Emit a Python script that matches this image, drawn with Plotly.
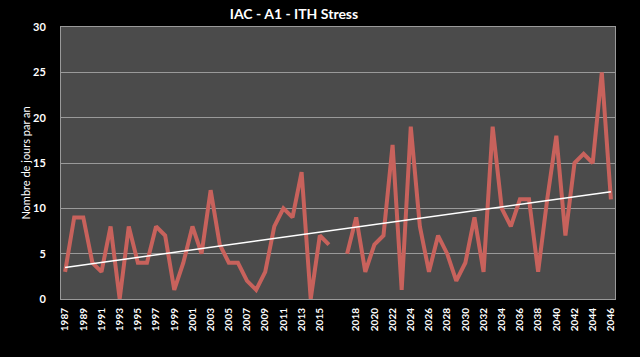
import numpy as np
import plotly.graph_objects as go

years = [str(y) for y in range(1987, 2017)] + [""] + [str(y) for y in range(2017, 2047)]
values = [3, 9, 9, 4, 3, 8, 0, 8, 4, 4, 8, 7, 1, 4, 8, 5, 12, 6, 4, 4, 2, 1, 3, 8, 10, 9, 14, 0, 7, 6,
          None,
          5, 9, 3, 6, 7, 17, 1, 19, 8, 3, 7, 5, 2, 4, 9, 3, 19, 10, 8, 11, 11, 3, 11, 18, 7, 15, 16, 15, 25, 11]
tick_labels = [str(y) for y in range(1987, 2016, 2)] + [""] + [str(y) for y in range(2018, 2047, 2)]
y_ticks = [0, 5, 10, 15, 20, 25, 30]

idx = np.arange(len(years))
valid = [i for i, v in enumerate(values) if v is not None]
coef = np.polyfit(idx[valid], np.array([values[i] for i in valid], dtype=float), 1)
trend = np.polyval(coef, idx[[0, -1]])

fig = go.Figure()
fig.add_trace(go.Scatter(x=idx, y=values, mode="lines", connectgaps=False,
                         line=dict(color="#c8625c", width=4), hoverinfo="skip"))
fig.add_trace(go.Scatter(x=idx[[0, -1]], y=trend, mode="lines",
                         line=dict(color="white", width=1.5), hoverinfo="skip"))

font = "Lato, 'Open Sans', sans-serif"
fig.update_layout(
    width=640, height=357,
    paper_bgcolor="black", plot_bgcolor="#4b4b4b",
    margin=dict(l=61, r=25, t=27, b=58),
    showlegend=False,
    title=dict(text="<b>IAC - A1 - ITH Stress</b>", x=294 / 640, xanchor="center",
               y=1 - 14 / 357, yanchor="middle",
               font=dict(family=font, size=14, color="white")),
    font=dict(family=font, color="white"),
)
fig.update_xaxes(range=[-0.45, len(years) - 0.55], tickvals=idx[0::2],
                 ticktext=["<b>%s</b>" % t if t else "" for t in tick_labels],
                 tickangle=-90, tickfont=dict(size=10, color="white", family=font),
                 showgrid=False, zeroline=False, showline=True, linecolor="#9a9a9a", linewidth=1,
                 mirror=True, ticks="", ticklabelstandoff=4, automargin=False)
fig.update_yaxes(range=[0, 30], tickvals=y_ticks, ticktext=["<b>%d</b>" % v for v in y_ticks],
                 showgrid=True, gridcolor="#9a9a9a",
                 gridwidth=1, zeroline=False, showline=True, linecolor="#9a9a9a",
                 mirror=True, linewidth=1, tickfont=dict(size=11, color="white", family=font),
                 ticks="", ticklabelstandoff=12, automargin=False,
                 title=dict(text="Nombre de jours par an", standoff=0,
                            font=dict(size=11, color="white", family=font)))
fig.write_html("out.html", config={"displayModeBar": False},
               post_script="document.body.style.margin='0';document.body.style.background='black';")
